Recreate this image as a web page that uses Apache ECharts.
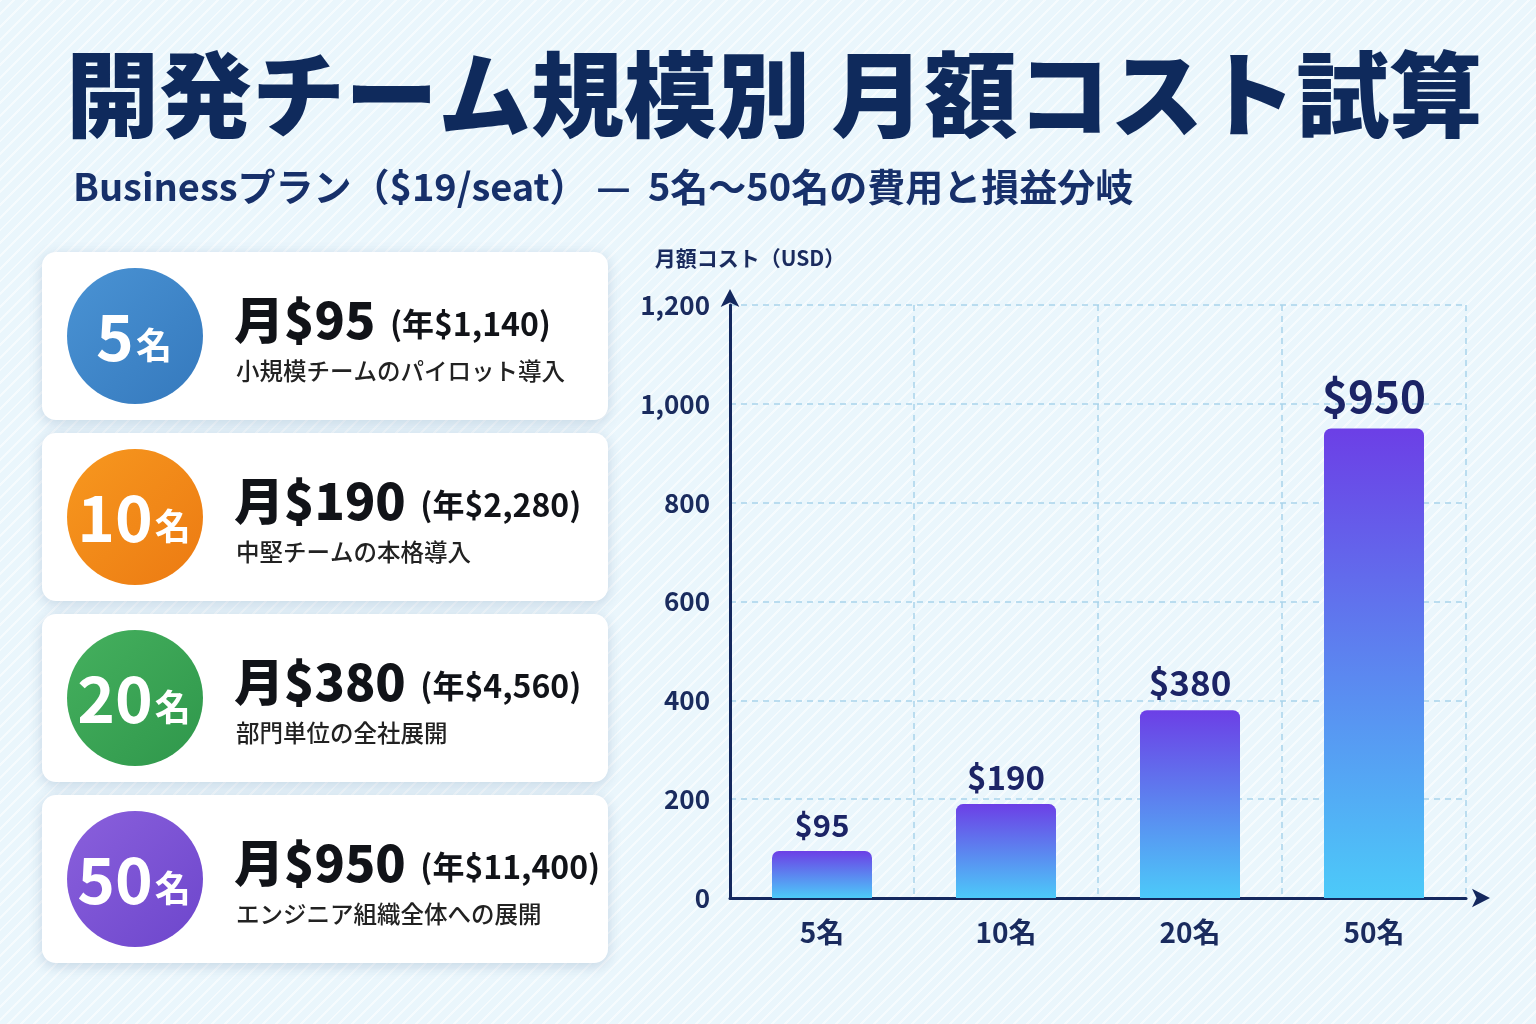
<!DOCTYPE html>
<html><head><meta charset="utf-8">
<script src="https://cdn.jsdelivr.net/npm/echarts@6/dist/echarts.min.js"></script>
<style>
html,body{margin:0;padding:0;width:1536px;height:1024px;overflow:hidden;
background:#eaf6fc repeating-linear-gradient(135deg, rgba(255,255,255,0.55) 0px, rgba(255,255,255,0.55) 2px, rgba(255,255,255,0) 2px, rgba(255,255,255,0) 9px);}
#c{width:1536px;height:1024px;}
</style></head><body><div id="c"></div>
<script>
// ---- data ----
const categories = ['5名', '10名', '20名', '50名'];
const seats = [5, 10, 20, 50];
const monthlyCost = [95, 190, 380, 950];
const annualCost = [1140, 2280, 4560, 11400];
const descriptions = ['小規模チームのパイロット導入', '中堅チームの本格導入', '部門単位の全社展開', 'エンジニア組織全体への展開'];
const yTicks = { min: 0, max: 1200, interval: 200 };
const titleText = '開発チーム規模別 月額コスト試算';
const subtitleText = 'Businessプラン（$19/seat） —  5名〜50名の費用と損益分岐';
const yAxisName = '月額コスト（USD）';

// ---- styles ----
const FONT = '"Noto Sans CJK JP","Noto Sans",sans-serif';
const NAVY = '#14285e';
const circleColors = [['#4a93d4', '#3579bd'], ['#f7981f', '#ec7a12'], ['#45b05e', '#2f974b'], ['#8a60dc', '#6d46cc']];
const labelSizes = [31, 33, 35, 44];

const fmt = n => n.toLocaleString('en-US');

const graphics = [];
graphics.push({ type: 'text', x: 66, y: 95, style: { text: titleText, font: '900 93px ' + FONT, fill: '#0f2a5c', textVerticalAlign: 'middle' } });
graphics.push({ type: 'text', x: 73, y: 187, style: { text: subtitleText, font: 'bold 38px ' + FONT, fill: '#17306a', textVerticalAlign: 'middle' } });

const cardTop = 252, cardH = 168, cardGap = 13;
seats.forEach((s, i) => {
  const y0 = cardTop + i * (cardH + cardGap);
  const cy = y0 + cardH / 2;
  graphics.push({ type: 'rect', shape: { x: 42, y: y0, width: 566, height: cardH, r: 14 },
    style: { fill: '#ffffff', shadowBlur: 14, shadowOffsetY: 3, shadowColor: 'rgba(40,80,130,0.20)' } });
  graphics.push({ type: 'circle', shape: { cx: 135, cy: cy, r: 68 },
    style: { fill: new echarts.graphic.LinearGradient(0, 0, 1, 1, [{ offset: 0, color: circleColors[i][0] }, { offset: 1, color: circleColors[i][1] }]) } });
  graphics.push({ type: 'text', x: 134, y: cy + 1, style: {
    text: '{n|' + s + '}{u|名}', textAlign: 'center', textVerticalAlign: 'middle',
    rich: { n: { fontSize: 64, fontWeight: 'bold', fill: '#ffffff', fontFamily: FONT },
            u: { fontSize: 36, fontWeight: 'bold', fill: '#ffffff', fontFamily: FONT, padding: [16, 0, 0, 2] } } } });
  graphics.push({ type: 'text', x: 234, y: cy - 16, style: {
    text: '{a|月$' + fmt(monthlyCost[i]) + '}{b|  (年$' + fmt(annualCost[i]) + ')}',
    textVerticalAlign: 'middle',
    rich: { a: { fontSize: 50, fontWeight: 900, fill: '#111318', fontFamily: FONT },
            b: { fontSize: 32, fontWeight: 'bold', fill: '#111318', fontFamily: FONT, padding: [8, 0, 0, 0] } } } });
  graphics.push({ type: 'text', x: 236, y: cy + 35, style: { text: descriptions[i], font: '500 23.5px ' + FONT, fill: '#222', textVerticalAlign: 'middle' } });
});

const chart = echarts.init(document.getElementById('c'));
chart.setOption({
  backgroundColor: 'transparent',
  animation: false,
  graphic: graphics,
  grid: { left: 730, right: 70, top: 305, bottom: 126 },
  xAxis: {
    type: 'category', data: categories,
    axisLine: { lineStyle: { color: NAVY, width: 3 }, symbol: ['none', 'arrow'], symbolSize: [14, 18], symbolOffset: [0, 24] },
    axisTick: { show: false },
    axisLabel: { fontSize: 28, fontWeight: 'bold', color: '#1a2b5e', fontFamily: FONT, margin: 20 },
    splitLine: { show: true, lineStyle: { color: '#a9d3ea', type: [6, 5], width: 1.5 } }
  },
  yAxis: {
    type: 'value', min: yTicks.min, max: yTicks.max, interval: yTicks.interval,
    name: yAxisName, nameLocation: 'end', nameGap: 36,
    nameTextStyle: { fontSize: 21, fontWeight: 'bold', color: '#1a2b5e', fontFamily: FONT, align: 'center', padding: [0, 0, 0, 40] },
    axisLine: { show: true, lineStyle: { color: NAVY, width: 3 }, symbol: ['none', 'arrow'], symbolSize: [14, 18], symbolOffset: [0, 16] },
    axisTick: { show: false },
    axisLabel: { fontSize: 26, fontWeight: 'bold', color: '#1a2b5e', fontFamily: FONT, margin: 20,
      formatter: v => fmt(v) },
    splitLine: { show: true, lineStyle: { color: '#a9d3ea', type: [6, 5], width: 1.5 } }
  },
  series: [{
    type: 'bar', barWidth: 100,
    data: monthlyCost.map((v, i) => ({ value: v, label: { fontSize: labelSizes[i] } })),
    itemStyle: {
      borderRadius: [7, 7, 0, 0],
      color: new echarts.graphic.LinearGradient(0, 0, 0, 1, [{ offset: 0, color: '#6c3fe6' }, { offset: 1, color: '#4ccaf9' }])
    },
    label: { show: true, position: 'top', distance: 10, fontWeight: 'bold', color: '#1c2466', fontFamily: FONT,
      formatter: p => '$' + fmt(p.value) }
  }]
});
</script></body></html>
